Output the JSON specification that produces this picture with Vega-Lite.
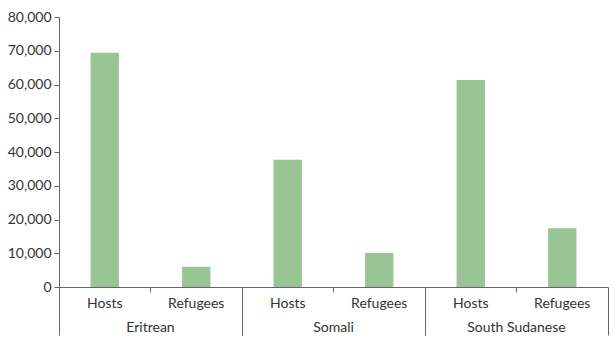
{
  "$schema": "https://vega.github.io/schema/vega-lite/v6.json",
  "padding": {"left": 7, "top": 10, "right": 5, "bottom": 0},
  "data": {"values": [
    {"group": "Eritrean", "type": "Hosts", "value": 69400},
    {"group": "Eritrean", "type": "Refugees", "value": 6000},
    {"group": "Somali", "type": "Hosts", "value": 37700},
    {"group": "Somali", "type": "Refugees", "value": 10100},
    {"group": "South Sudanese", "type": "Hosts", "value": 61300},
    {"group": "South Sudanese", "type": "Refugees", "value": 17400}
  ]},
  "facet": {"column": {"field": "group", "type": "nominal", "sort": ["Eritrean", "Somali", "South Sudanese"],
    "header": {"labelOrient": "bottom", "title": null, "labelFont": "Lato", "labelFontSize": 14, "labelColor": "#333333", "labelPadding": -15}}},
  "spacing": 0,
  "spec": {
    "width": 183,
    "height": 270,
    "mark": {"type": "bar", "color": "#99c494", "width": {"band": 0.31}},
    "encoding": {
      "x": {"field": "type", "type": "nominal", "title": null,
        "scale": {"paddingInner": 0, "paddingOuter": 0},
        "axis": {"labelAngle": 0, "bandPosition": 1, "tickExtra": true,
          "tickSize": {"condition": {"test": "datum.value === 'Hosts'", "value": 5}, "value": 48},
          "labelPadding": {"condition": {"test": "datum.value === 'Hosts'", "value": 4}, "value": -39}}},
      "y": {"field": "value", "type": "quantitative", "title": null,
        "scale": {"domain": [0, 80000]},
        "axis": {"values": [0,10000,20000,30000,40000,50000,60000,70000,80000], "format": ",d", "labelPadding": 3}}
    }
  },
  "config": {
    "view": {"stroke": null},
    "axis": {"grid": false, "domainColor": "#666666", "tickColor": "#666666", "labelColor": "#333333", "labelFont": "Lato", "labelFontSize": 14, "tickSize": 5}
  }
}
